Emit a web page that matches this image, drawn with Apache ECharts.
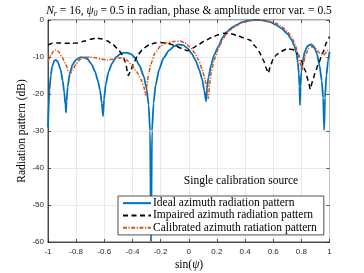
<!DOCTYPE html>
<html><head><meta charset="utf-8">
<script src="https://cdn.jsdelivr.net/npm/echarts@6/dist/echarts.min.js"></script>
<style>html,body{margin:0;padding:0;background:#fff}#c{width:364px;height:273px}</style>
</head><body><div id="c"></div>
<script>
// ---- data ----
var xTicks = [-1, -0.8, -0.6, -0.4, -0.2, 0, 0.2, 0.4, 0.6, 0.8, 1];
var yTicks = [0, -10, -20, -30, -40, -50, -60];
var seriesNames = ['Ideal azimuth radiation pattern', 'Impaired azimuth radiation pattern', 'Calibrated azimuth ratiation pattern'];

var idealU = [-1.0,-0.99,-0.98,-0.97,-0.955,-0.945,-0.93,-0.91,-0.895,-0.885,-0.876,-0.872,-0.868,-0.86,-0.845,-0.825,-0.8,-0.77,-0.744,-0.72,-0.69,-0.665,-0.645,-0.63,-0.618,-0.609,-0.602,-0.59,-0.57,-0.545,-0.515,-0.48,-0.441,-0.41,-0.38,-0.35,-0.32,-0.3,-0.285,-0.275,-0.268,-0.261,-0.25,-0.235,-0.21,-0.18,-0.14,-0.1,-0.074,-0.04,-0.01,0.02,0.05,0.075,0.095,0.11,0.123,0.13,0.14,0.16,0.18,0.21,0.24,0.27,0.3,0.34,0.38,0.42,0.46,0.5,0.54,0.58,0.62,0.66,0.7,0.73,0.75,0.765,0.775,0.782,0.787,0.79,0.794,0.8,0.81,0.825,0.845,0.869,0.89,0.91,0.93,0.945,0.955,0.962,0.968,0.978,0.99,1.0];
var idealDb = [-29,-19,-15,-12.5,-11,-10.8,-11.3,-13.5,-16.5,-19.5,-23,-25,-22,-18,-14.5,-12,-10.7,-10.1,-10.1,-10.5,-12,-14,-16.5,-19,-22.5,-26,-21.5,-17.5,-14,-11.7,-10,-9,-8.8,-9.2,-10.3,-12.3,-15.2,-18.5,-23,-30,-60,-30,-22.5,-17.5,-13.3,-10.3,-8.2,-7,-6.6,-6.8,-7.6,-9,-11,-13.5,-16,-19,-22,-18.5,-15.5,-12,-9.5,-7.2,-4.8,-3.2,-2.2,-1.3,-0.6,-0.2,0,0,-0.2,-0.6,-1.3,-2.3,-3.7,-5.3,-7,-9,-11.5,-14.5,-18,-23,-18,-14,-11,-8.5,-7,-6.6,-7.2,-9,-12.5,-16.5,-21,-29.7,-21,-15,-11,-8.6];

var impairedU = [-1.0,-0.97,-0.93,-0.88,-0.83,-0.79,-0.74,-0.7,-0.66,-0.62,-0.58,-0.54,-0.5,-0.47,-0.45,-0.43,-0.415,-0.39,-0.36,-0.32,-0.28,-0.24,-0.2,-0.15,-0.1,-0.05,-0.01,0.03,0.07,0.12,0.17,0.21,0.25,0.3,0.34,0.39,0.435,0.47,0.5,0.53,0.55,0.565,0.58,0.6,0.625,0.66,0.7,0.74,0.775,0.8,0.826,0.85,0.863,0.88,0.9,0.92,0.95,0.98,1.0];
var impairedDb = [-6.8,-6.3,-6.2,-6.3,-6.3,-6.2,-5.7,-5.2,-4.9,-5.1,-5.6,-6.6,-8.0,-9.5,-11.5,-15,-14,-11.5,-9.3,-7.6,-6.7,-6.2,-6.1,-6.3,-6.9,-7.7,-8.3,-7.6,-6.6,-5.5,-4.6,-4.0,-3.6,-3.7,-4.1,-4.8,-5.4,-7,-8.6,-10.8,-13,-14.4,-12.5,-10.5,-9.3,-8.4,-7.8,-8,-9.2,-11,-13.5,-16.5,-18.7,-16.5,-14,-12,-9,-6,-4.5];

var calibU = [-1.0,-0.98,-0.96,-0.945,-0.925,-0.9,-0.875,-0.855,-0.84,-0.825,-0.8,-0.77,-0.74,-0.7,-0.66,-0.62,-0.58,-0.54,-0.5,-0.47,-0.44,-0.405,-0.37,-0.34,-0.32,-0.306,-0.295,-0.285,-0.27,-0.24,-0.2,-0.16,-0.11,-0.06,-0.027,0.01,0.04,0.07,0.095,0.115,0.13,0.139,0.148,0.16,0.18,0.21,0.24,0.27,0.3,0.34,0.38,0.42,0.46,0.5,0.54,0.58,0.62,0.66,0.7,0.73,0.755,0.775,0.79,0.803,0.815,0.83,0.85,0.874,0.9,0.925,0.945,0.957,0.97,0.985,1.0];
var calibDb = [-11.3,-9.5,-8.4,-8.1,-8.5,-10,-12,-13.8,-14.4,-13.5,-11.8,-10.6,-10.1,-10,-10.2,-10.6,-10.8,-10.6,-10.3,-10.3,-10.9,-12.2,-14,-16,-18,-20.3,-17,-14.5,-12,-8.9,-7,-6.2,-5.8,-5.7,-6.2,-7.3,-8.8,-10.8,-13.3,-16,-19,-21.2,-17.5,-14,-10.8,-7.8,-5.3,-3.6,-2.5,-1.5,-0.7,-0.3,-0.1,0,-0.1,-0.4,-0.9,-1.8,-3.1,-4.5,-6.5,-9,-11.5,-13.5,-11.5,-9.5,-7.8,-7.2,-7.8,-8.8,-9.4,-9.5,-9,-8.3,-8.6];

function pairs(u, d) { return u.map(function (v, i) { return [v, d[i]]; }); }

var chart = echarts.init(document.getElementById('c'), null, {renderer: 'canvas'});
var serif = '"Liberation Serif", "DejaVu Serif", serif';
var sans = '"Liberation Sans", Arial, sans-serif';
var gridCol = '#e3e3e3';
var axisCol = '#262626';
var FS = 11.5;

var commonX = {
  type: 'value', min: xTicks[0], max: xTicks[xTicks.length - 1], interval: 0.2
};
var commonY = {
  type: 'value', min: yTicks[yTicks.length - 1], max: yTicks[0], interval: 10
};

chart.setOption({
  animation: false,
  backgroundColor: '#fff',
  grid: {left: 48, right: 34.5, top: 20, bottom: 31, show: true, borderColor: axisCol, borderWidth: 0.8},
  xAxis: [
    Object.assign({}, commonX, {
      position: 'bottom',
      axisLine: {show: true, onZero: false, lineStyle: {color: axisCol, width: 0.8}},
      axisTick: {show: true, inside: true, length: 3, lineStyle: {color: axisCol, width: 0.8}},
      axisLabel: {color: axisCol, fontFamily: sans, fontSize: 8, margin: 6,
        formatter: function (v) { return String(Math.round(v * 10) / 10); }},
      splitLine: {show: true, lineStyle: {color: gridCol, width: 0.8}}
    }),
    Object.assign({}, commonX, {
      position: 'top',
      axisLine: {show: false, onZero: false},
      axisTick: {show: true, inside: true, length: 3, lineStyle: {color: axisCol, width: 0.8}},
      axisLabel: {show: false},
      splitLine: {show: false}
    })
  ],
  yAxis: [
    Object.assign({}, commonY, {
      position: 'left',
      axisLine: {show: true, onZero: false, lineStyle: {color: axisCol, width: 0.8}},
      axisTick: {show: true, inside: true, length: 3, lineStyle: {color: axisCol, width: 0.8}},
      axisLabel: {color: axisCol, fontFamily: sans, fontSize: 8, margin: 4},
      splitLine: {show: true, lineStyle: {color: gridCol, width: 0.8}}
    }),
    Object.assign({}, commonY, {
      position: 'right',
      axisLine: {show: false, onZero: false},
      axisTick: {show: true, inside: true, length: 3, lineStyle: {color: axisCol, width: 0.8}},
      axisLabel: {show: false},
      splitLine: {show: false}
    })
  ],
  legend: {
    orient: 'vertical', left: 118, top: 196,
    data: seriesNames,
    itemWidth: 28, itemHeight: 10, itemGap: 0,
    padding: [1, 7, 1, 4],
    itemStyle: {color: 'rgba(0,0,0,0)', borderColor: 'rgba(0,0,0,0)', borderWidth: 0, opacity: 0},
    backgroundColor: '#fff', borderColor: axisCol, borderWidth: 0.8, borderRadius: 0,
    textStyle: {fontFamily: serif, fontSize: FS, color: '#000', lineHeight: 12.3, padding: [0, 0, 0, -3]}
  },
  series: [
    {name: seriesNames[0], type: 'line', data: pairs(idealU, idealDb), symbol: 'none', smooth: 0.2,
      smoothMonotone: 'x', z: 3,
      lineStyle: {color: '#0072BD', width: 1.8}, itemStyle: {color: '#0072BD'}},
    {name: seriesNames[1], type: 'line', data: pairs(impairedU, impairedDb), symbol: 'none', smooth: 0.2,
      smoothMonotone: 'x', z: 4,
      lineStyle: {color: '#000', width: 1.5, type: [5, 3.5]}, itemStyle: {color: '#000'}},
    {name: seriesNames[2], type: 'line', data: pairs(calibU, calibDb), symbol: 'none', smooth: 0.2,
      smoothMonotone: 'x', z: 5,
      lineStyle: {color: '#D95319', width: 1.5, type: [4, 1.5, 1.2, 1.5]}, itemStyle: {color: '#D95319'}}
  ],
  graphic: [
    {type: 'text', x: 189, y: 11, z: 10, style: {
      text: '{i|N}{sub|r}{n| = 16, }{i|ψ}{sub|0}{n| = 0.5 in radian, phase & amplitude error var. = 0.5}',
      align: 'center', verticalAlign: 'middle',
      rich: {
        n: {fontFamily: serif, fontSize: FS, fill: '#000', lineHeight: 13},
        i: {fontFamily: serif, fontSize: FS, fontStyle: 'italic', fill: '#000', lineHeight: 13},
        sub: {fontFamily: serif, fontSize: 8, fontStyle: 'italic', fill: '#000', lineHeight: 13, verticalAlign: 'bottom', padding: [4, 0, 0, 0]}
      }
    }},
    {type: 'text', x: 241, y: 181, z: 10, style: {
      text: 'Single calibration source', fontFamily: serif, fontSize: FS, fill: '#000',
      align: 'center', verticalAlign: 'middle'
    }},
    {type: 'text', x: 189, y: 265, z: 10, style: {
      text: '{n|sin(}{i|ψ}{n|)}', align: 'center', verticalAlign: 'middle',
      rich: {
        n: {fontFamily: serif, fontSize: FS, fill: '#000'},
        i: {fontFamily: serif, fontSize: FS, fontStyle: 'italic', fill: '#000'}
      }
    }},
    {type: 'text', x: 22, y: 131, rotation: Math.PI / 2, z: 10, style: {
      text: 'Radiation pattern (dB)', fontFamily: serif, fontSize: FS, fill: '#000',
      align: 'center', verticalAlign: 'middle'
    }}
  ]
});
</script>
</body></html>
